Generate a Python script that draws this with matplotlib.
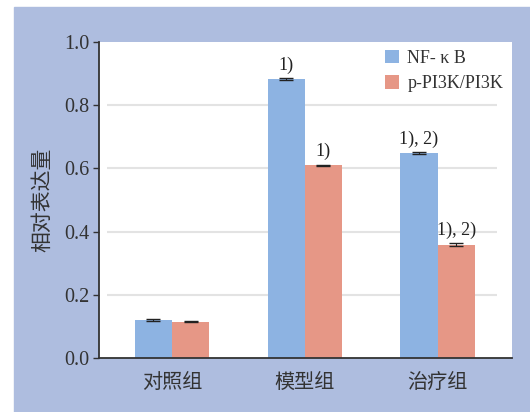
import matplotlib
matplotlib.use("Agg")
import matplotlib.pyplot as plt
from matplotlib.patches import Rectangle
import numpy as np

# group labels and measured expression levels
groups = ["对照组", "模型组", "治疗组"]
nfkb = [0.120, 0.883, 0.649]
nfkb_err = [0.002, 0.003, 0.003]
pi3k = [0.115, 0.610, 0.358]
pi3k_err = [0.002, 0.002, 0.005]
nfkb_marks = ["", "1)", "1), 2)"]
pi3k_marks = ["", "1)", "1), 2)"]
series_names = ["NF- κ B", "p-PI3K/PI3K"]
yticks = [0.0, 0.2, 0.4, 0.6, 0.8, 1.0]

blue = "#8db3e2"
salmon = "#e69786"
frame = "#aebddf"
serif = ["Liberation Serif", "DejaVu Serif"]
cjk = ["Noto Sans CJK SC", "DejaVu Sans"]

fig = plt.figure(figsize=(5.3, 4.12), dpi=100)
fig.patches.append(Rectangle((14 / 530, 0), 1, (412 - 7) / 412,
                             transform=fig.transFigure, color=frame, zorder=-1))

ax = fig.add_axes([99 / 530, 54 / 412, 413 / 530, 316 / 412])
ax.set_facecolor("white")

x = np.arange(len(groups))
w = 0.28
ax.bar(x - w / 2, nfkb, w, color=blue, label=series_names[0], zorder=2)
ax.bar(x + w / 2, pi3k, w, color=salmon, label=series_names[1], zorder=2)
ax.errorbar(x - w / 2, nfkb, yerr=nfkb_err, fmt="none", ecolor="#222222",
            elinewidth=0.8, capsize=5, capthick=1.0, zorder=3)
ax.errorbar(x + w / 2, pi3k, yerr=pi3k_err, fmt="none", ecolor="#222222",
            elinewidth=0.8, capsize=5, capthick=1.0, zorder=3)

for xi, v, e, m in zip(x - w / 2, nfkb, nfkb_err, nfkb_marks):
    if m:
        ax.annotate(m, (xi, v + e), xytext=(0, 3), textcoords="offset points",
                    ha="center", va="bottom", fontsize=13, family=serif, color="#222222")
for xi, v, e, m in zip(x + w / 2, pi3k, pi3k_err, pi3k_marks):
    if m:
        ax.annotate(m, (xi, v + e), xytext=(0, 3), textcoords="offset points",
                    ha="center", va="bottom", fontsize=13, family=serif, color="#222222")

# light grid lines that stop short of the axes edges
ax.hlines(yticks[1:-1], -0.49, 2.45, color="#e3e3e3", lw=1.5, zorder=1)

ax.set_xlim(-0.55, 2.56)
ax.set_ylim(0, 1.0)
ax.set_yticks(yticks)
ax.set_yticklabels([f"{t:.1f}" for t in yticks], family=serif, fontsize=14.5, color="#333333")
ax.set_xticks(x)
ax.set_xticklabels(groups, family=cjk, fontsize=14.5, color="#333333")
ax.tick_params(axis="x", length=0, pad=10)
ax.tick_params(axis="y", length=4, width=1, color="#333333", pad=3)
ax.set_ylabel("相对表达量", family=cjk, fontsize=15, color="#333333", labelpad=8)

for side in ["top", "right"]:
    ax.spines[side].set_visible(False)
for side in ["left", "bottom"]:
    ax.spines[side].set_color("#333333")
    ax.spines[side].set_linewidth(1.3)

leg = ax.legend(loc="upper right", bbox_to_anchor=(1.005, 1.01), frameon=False,
                prop={"family": serif, "size": 13}, handlelength=0.8, handleheight=0.8,
                handletextpad=0.45, labelspacing=0.45, borderaxespad=0.2)
for t in leg.get_texts():
    t.set_color("#333333")

fig.savefig("out.png", dpi=100)
